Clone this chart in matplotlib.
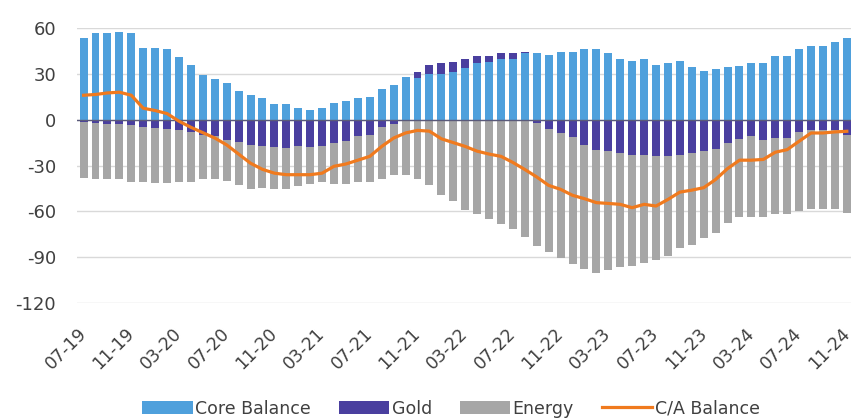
import numpy as np
import pandas as pd
import matplotlib
matplotlib.use("Agg")
import matplotlib.pyplot as plt

# monthly, 07-19 .. 11-24
months = pd.period_range("2019-07", "2024-11", freq="M")
labels = [m.strftime("%m-%y") for m in months]

core = [53.5, 56.5, 56.5, 57.5, 56.5, 47, 47, 46, 41, 36,
        29, 26.5, 24, 19, 16, 14, 10, 10, 7.5, 6.5,
        7.5, 11, 12.5, 14, 15, 20, 23, 28, 27, 30,
        30, 31.5, 33.5, 37, 37.5, 40, 40, 43.5, 43.5, 42.5,
        44.5, 44.5, 46, 46, 43.5, 39.5, 38.5, 39.5, 35.5, 37,
        38.5, 34.5, 32, 33, 34.5, 35, 37, 37, 42, 42,
        46, 48.5, 48.5, 51, 53.5]

gold = [-1.5, -2, -2.5, -3, -3.5, -4.5, -5.5, -6, -6.5, -8,
        -10, -11, -13, -14.5, -16.5, -17, -18, -18.5, -17.5, -18,
        -17, -15, -14, -11, -10, -5, -2.5, -0.5, 4.5, 5.5,
        7, 6.5, 6, 5, 4.5, 3.5, 3.5, 0.5, -2, -6,
        -8.7, -11.3, -16.5, -20, -20.6, -21.5, -22.8, -22.8, -24, -24,
        -22.8, -21.7, -20.6, -19, -15, -12.5, -11, -13, -12.3, -12.3,
        -8, -7, -7, -7, -9.8]

energy = [-36.5, -37, -36.5, -36, -37.5, -36.5, -36, -35.5, -34.5, -33,
          -29, -28, -27, -28.5, -29, -27.5, -27.5, -27, -26, -24,
          -23.5, -27, -28, -29.5, -30.5, -33.5, -34, -36, -39, -43,
          -49.5, -53, -59, -62, -65, -68.5, -71.5, -76.5, -80.5, -80.5,
          -81.5, -83, -81.5, -80.5, -77.5, -75, -73, -71, -68, -65,
          -61, -60, -57, -55, -52.4, -51, -52.4, -50.4, -49.7, -49.7,
          -51.8, -51.7, -51.7, -51.7, -51]

ca_balance = [16, 16.5, 17.5, 18, 16, 7.5, 6, 4, -1, -5,
              -8.5, -12, -16.5, -22.5, -28.5, -32.5, -35, -36, -36, -36,
              -35, -30.5, -29, -26.5, -24, -17.5, -12, -8.7, -7, -7.5,
              -12.5, -15, -17.5, -20.6, -22.5, -24, -28, -32.6, -37.5, -43,
              -45.6, -49.5, -51.7, -54.3, -54.8, -55.4, -57.6, -55.4, -56.5, -52.2,
              -47.4, -46.1, -44.5, -39.1, -32, -26.5, -26.5, -26, -21.3, -19.6,
              -14.1, -8.7, -8.7, -8, -7.6]

c_core = "#4FA0DC"
c_gold = "#4A3F9F"
c_energy = "#A6A6A6"
c_line = "#F07A1E"
txt = "#404040"

plt.rcParams["font.family"] = ["DejaVu Sans"]
plt.rcParams["axes.unicode_minus"] = False

x = np.arange(len(labels))
core = np.array(core)
gold = np.array(gold)
energy = np.array(energy)

fig = plt.figure(figsize=(8.51, 4.18), dpi=100)
ax = fig.add_axes([0.0905, 0.275, 0.9095, 0.658])

w = 0.67
gold_bottom = np.where(gold > 0, core, 0)
energy_bottom = np.minimum(gold, 0)
b1 = ax.bar(x, core, w, color=c_core, zorder=2)
b2 = ax.bar(x, gold, w, bottom=gold_bottom, color=c_gold, zorder=2)
b3 = ax.bar(x, energy, w, bottom=energy_bottom, color=c_energy, zorder=2)
l1, = ax.plot(x, ca_balance, color=c_line, lw=2.3, zorder=4)
ax.axhline(0, color="#5a5a7a", lw=1.0, zorder=3)

ax.set_ylim(-120, 60)
ax.set_yticks(range(-120, 61, 30))
ax.set_xlim(-0.55, 64.35)
ax.set_xticks(x[::4])
ax.set_xticklabels(labels[::4], rotation=45, ha="right", va="center",
                   rotation_mode="anchor", fontsize=12.5, color=txt)
ax.tick_params(axis="x", length=0, pad=20)
ax.tick_params(axis="y", length=0, pad=15, labelsize=13, labelcolor=txt)

ax.grid(axis="y", color="#D9D9D9", lw=1, zorder=0)
for s in ax.spines.values():
    s.set_visible(False)

fig.legend([b1, b2, b3, l1], ["Core Balance", "Gold", "Energy", "C/A Balance"],
           loc="center", bbox_to_anchor=(0.53, 0.022), ncol=4, frameon=False,
           fontsize=12.5, handlelength=2.9, handleheight=0.8,
           handletextpad=0.15, columnspacing=1.6, labelcolor=txt)

fig.savefig("out.png", dpi=100)
